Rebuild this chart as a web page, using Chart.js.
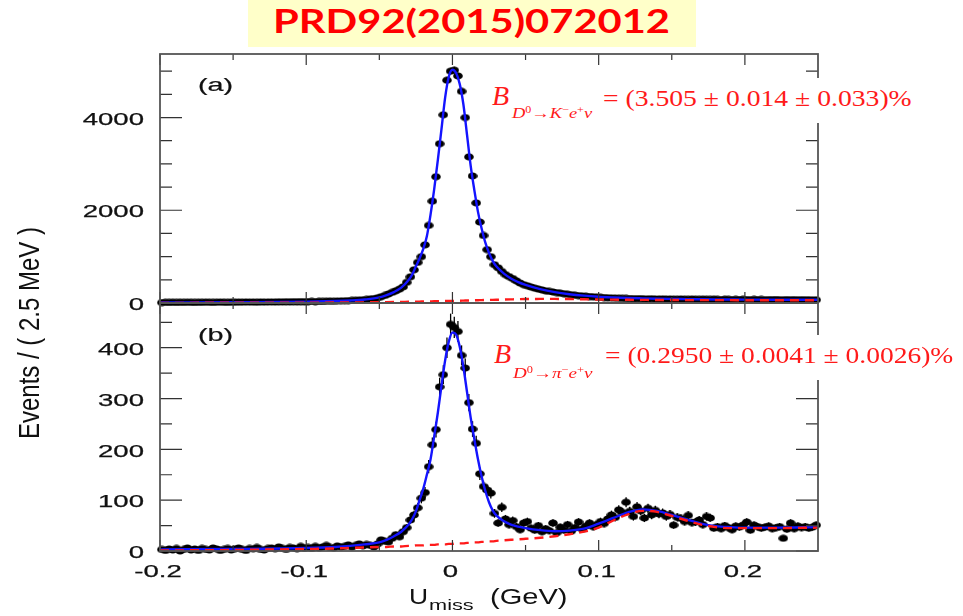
<!DOCTYPE html>
<html>
<head>
<meta charset="utf-8">
<script src="https://cdn.jsdelivr.net/npm/chart.js@4.4.1/dist/chart.umd.min.js"></script>
<style>
  html, body { margin: 0; padding: 0; background: #fff; }
  #wrap { position: relative; width: 963px; height: 616px; overflow: hidden; }
  #wrap canvas { position: absolute; left: 0; top: 0; }
  .title-box { position: absolute; left: 248px; top: 0; width: 448px; height: 47px; background: #ffffc9; }
  .title-text { position: absolute; left: 25px; top: 5px; font: bold 32px Lato, sans-serif; line-height: 1; color: #ff0000; white-space: nowrap; transform-origin: 0 0; display: inline-block; }
  .blank { position: absolute; background: #fff; }
  .fx { position: absolute; color: #ff1a1a; font-family: 'Liberation Serif', serif; line-height: 1; white-space: nowrap; transform-origin: 0 0; display: inline-block; }
  .fx i { font-style: italic; }
  .fx sup { font-size: 0.65em; vertical-align: 0.5em; line-height: 0; }
</style>
</head>
<body>
<div id="wrap">
  <canvas id="panelA" width="963" height="616"></canvas>
  <canvas id="panelB" width="963" height="616"></canvas>
  <div class="title-box"><span class="title-text" id="title">PRD92(2015)072012</span></div>

  <div class="blank" style="left:486px; top:78px; width:450px; height:45px;"></div>
  <span class="fx" style="left:492px; top:82px; font-size:28px;"><i>B</i></span>
  <span class="fx fit" data-w="80" style="left:512px; top:106px; font-size:15px;"><i>D</i><sup>0</sup>→<i>K</i><sup>−</sup><i>e</i><sup>+</sup><i>ν</i></span>
  <span class="fx fit" data-w="309" style="left:603px; top:87px; font-size:23px;">= (3.505 ± 0.014 ± 0.033)%</span>

  <div class="blank" style="left:486px; top:335px; width:477px; height:45px;"></div>
  <span class="fx" style="left:494px; top:340px; font-size:28px;"><i>B</i></span>
  <span class="fx fit" data-w="80" style="left:513px; top:366px; font-size:15px;"><i>D</i><sup>0</sup>→<i>π</i><sup>−</sup><i>e</i><sup>+</sup><i>ν</i></span>
  <span class="fx fit" data-w="348" style="left:605px; top:344px; font-size:23px;">= (0.2950 ± 0.0041 ± 0.0026)%</span>
</div>
<script>
// histogram binning (2.5 MeV bins from -0.2 to 0.25 GeV)
const binLow = -0.2;
const binWidth = 0.0025;

// (a) D0 -> K- e+ nu, events per bin
const eventsA = [
  10, 14, 12, 16, 11, 15, 13, 17, 14, 12,
  16, 14, 18, 15, 13, 17, 19, 16, 14, 18,
  17, 20, 18, 22, 19, 21, 17, 23, 20, 22,
  24, 21, 26, 23, 27, 25, 29, 26, 30, 28,
  31, 34, 30, 36, 33, 38, 40, 37, 43, 45,
  47, 51, 54, 59, 63, 70, 78, 86, 97, 112,
  135, 162, 195, 230, 262, 300, 348, 445, 565, 717,
  876, 1000, 1254, 1674, 2196, 2724, 3435, 4059, 4804, 5000,
  5022, 4898, 4565, 4000, 3152, 2739, 2159, 1746, 1457, 1152,
  1000, 826, 760, 680, 612, 570, 528, 478, 430, 395,
  372, 345, 320, 300, 282, 262, 250, 238, 225, 212,
  200, 190, 178, 168, 160, 152, 146, 140, 134, 128,
  124, 118, 113, 110, 106, 103, 100, 98, 96, 94,
  92, 95, 90, 88, 93, 87, 85, 89, 84, 86,
  83, 80, 85, 82, 78, 84, 80, 77, 82, 79,
  76, 81, 78, 74, 80, 77, 73, 78, 75, 79,
  74, 71, 77, 73, 76, 70, 74, 72, 75, 71,
  69, 74, 70, 73, 68, 72, 69, 71, 67, 70
];

// (b) D0 -> pi- e+ nu, events per bin
const eventsB = [
  3, 1, 4, 2, 5, 0, 3, 6, 2, 4,
  1, 5, 3, 2, 6, 4, 1, 3, 5, 2,
  4, 6, 3, 1, 5, 4, 7, 3, 2, 5,
  6, 4, 8, 5, 3, 7, 6, 4, 9, 5,
  7, 5, 9, 6, 8, 11, 7, 6, 10, 8,
  9, 12, 8, 11, 14, 10, 13, 11, 8, 14,
  22, 19, 18, 25, 32, 28, 38, 46, 61, 71,
  85, 104, 115, 166, 209, 239, 323, 347, 400, 446,
  440, 432, 385, 360, 292, 240, 212, 152, 127, 120,
  114, 74, 55, 86, 63, 52, 60, 48, 42, 55,
  58, 45, 41, 50, 38, 44, 40, 55, 36, 47,
  41, 52, 39, 46, 57, 43, 49, 55, 48, 52,
  58, 54, 63, 71, 66, 81, 76, 96, 78, 68,
  87, 79, 65, 84, 71, 80, 73, 75, 68, 72,
  51, 66, 64, 58, 70, 56, 57, 61, 52, 68,
  65, 45, 48, 44, 50, 46, 42, 49, 47, 51,
  57, 41, 51, 48, 45, 47, 49, 44, 46, 48,
  25, 43, 55, 44, 49, 46, 48, 45, 47, 51
];

// fit curves, sampled at these U_miss values
const fitX = [
  -0.2, -0.15, -0.1, -0.08, -0.07, -0.06, -0.05, -0.045, -0.04, -0.035,
  -0.03, -0.0275, -0.025, -0.0225, -0.02, -0.0175, -0.015, -0.0125, -0.01, -0.0075,
  -0.005, -0.0025, 0, 0.0025, 0.005, 0.0075, 0.01, 0.0125, 0.015, 0.0175,
  0.02, 0.0225, 0.025, 0.0275, 0.03, 0.035, 0.04, 0.045, 0.05, 0.06,
  0.07, 0.08, 0.09, 0.1, 0.11, 0.12, 0.13, 0.14, 0.15, 0.16,
  0.17, 0.18, 0.19, 0.2, 0.22, 0.25
];
const fitTotalA = [
  12, 18, 30, 43, 55, 76, 120, 170, 235, 330,
  495, 615, 790, 960, 1160, 1440, 1900, 2450, 3080, 3750,
  4430, 4880, 5030, 4960, 4720, 4280, 3620, 2950, 2430, 1960,
  1600, 1300, 1080, 910, 790, 640, 530, 450, 390, 300,
  235, 190, 158, 135, 120, 108, 100, 93, 88, 84,
  80, 77, 75, 73, 71, 69
];
const fitBkgA = [
  3, 5, 8, 10, 12, 14, 17, 19, 21, 23,
  26, 27, 29, 30, 32, 33, 35, 37, 38, 40,
  42, 44, 46, 48, 50, 52, 54, 56, 58, 60,
  62, 64, 66, 68, 70, 74, 78, 82, 85, 88,
  88, 85, 80, 76, 72, 69, 67, 65, 64, 63,
  62, 61, 61, 60, 60, 60
];
const fitTotalB = [
  3, 4, 6, 8, 10, 13, 17, 22, 29, 38,
  52, 63, 78, 100, 122, 150, 180, 225, 272, 325,
  375, 412, 430, 426, 402, 362, 312, 262, 220, 180,
  146, 118, 96, 80, 70, 59, 52, 48, 45, 41,
  39, 40, 44, 54, 65, 76, 82, 79, 71, 62,
  54, 49, 47, 46, 46, 47
];
const fitBkgB = [
  1, 2, 4, 5, 6, 7, 8, 8, 9, 9,
  10, 10, 11, 11, 11, 12, 12, 12, 13, 13,
  13, 14, 14, 15, 15, 15, 16, 16, 17, 17,
  18, 18, 19, 19, 20, 21, 22, 23, 24, 26,
  29, 33, 38, 46, 60, 72, 79, 77, 69, 60,
  52, 47, 45, 45, 45, 46
];

// axis ticks
const xTicks = [-0.2, -0.1, 0, 0.1, 0.2];
const xTickLabels = ['-0.2', '-0.1', '0', '0.1', '0.2'];
const xMinor = [-0.15, -0.05, 0.05, 0.15];
const yTicksA = [0, 2000, 4000];
const yMinorA = [500, 1000, 1500, 2500, 3000, 3500, 4500, 5000];
const yTicksB = [0, 100, 200, 300, 400];
const yMinorB = [50, 150, 250, 350, 450];

const AXIS_FONT = '"Liberation Sans", Arial, sans-serif';

function toPoints(values) {
  return values.map((v, i) => ({ x: binLow + binWidth * (i + 0.5), y: v }));
}
function toCurve(ys) {
  return ys.map((v, i) => ({ x: fitX[i], y: v }));
}

// slightly wide elliptical marker for data points
const dot = document.createElement('canvas');
dot.width = 10; dot.height = 8;
(function () {
  const c = dot.getContext('2d');
  c.fillStyle = '#000';
  c.beginPath();
  c.ellipse(5, 4, 4.8, 3.6, 0, 0, Math.PI * 2);
  c.fill();
})();

function wideText(ctx, text, x, y, size, sx, align, weight) {
  ctx.save();
  ctx.font = size + 'px ' + AXIS_FONT;
  ctx.textBaseline = 'middle';
  ctx.textAlign = 'left';
  const w = ctx.measureText(text).width * sx;
  const left = align === 'right' ? x - w : align === 'center' ? x - w / 2 : x;
  ctx.translate(left, y);
  ctx.scale(sx, 1);
  ctx.fillText(text, 0, 0);
  if (weight) {
    ctx.lineWidth = weight;
    ctx.strokeStyle = ctx.fillStyle;
    ctx.strokeText(text, 0, 0);
  }
  ctx.restore();
  return left + w;
}

// poisson error bars under the markers
const errorBars = {
  id: 'errorBars',
  afterDatasetDraw(chart, args) {
    if (args.index !== 0) return;
    const ctx = chart.ctx, y = chart.scales.y;
    ctx.save();
    ctx.strokeStyle = '#000';
    ctx.lineWidth = 1.3;
    args.meta.data.forEach((pt, i) => {
      const v = chart.data.datasets[0].data[i].y;
      const e = Math.sqrt(Math.max(v, 1));
      ctx.beginPath();
      ctx.moveTo(pt.x, y.getPixelForValue(v + e));
      ctx.lineTo(pt.x, y.getPixelForValue(Math.max(v - e, 0)));
      ctx.stroke();
    });
    ctx.restore();
  }
};

// frame, inward ticks, tick labels and panel tag
const frame = {
  id: 'frame',
  afterDraw(chart, args, opts) {
    const ctx = chart.ctx, a = chart.chartArea;
    const xs = chart.scales.x, ys = chart.scales.y;
    ctx.save();
    ctx.strokeStyle = '#333';
    ctx.lineWidth = 1.2;
    const tickX = (v, len) => {
      const px = xs.getPixelForValue(v);
      ctx.beginPath();
      ctx.moveTo(px, a.bottom); ctx.lineTo(px, a.bottom - len);
      ctx.moveTo(px, a.top); ctx.lineTo(px, a.top + len);
      ctx.stroke();
    };
    const tickY = (v, len) => {
      const py = ys.getPixelForValue(v);
      ctx.beginPath();
      ctx.moveTo(a.left, py); ctx.lineTo(a.left + len, py);
      ctx.moveTo(a.right, py); ctx.lineTo(a.right - len, py);
      ctx.stroke();
    };
    xTicks.forEach(v => tickX(v, 11));
    xMinor.forEach(v => tickX(v, 6));
    opts.yTicks.forEach(v => tickY(v, 22));
    opts.yMinor.forEach(v => tickY(v, 12));

    ctx.strokeStyle = '#555';
    ctx.lineWidth = 1.8;
    ctx.strokeRect(a.left, a.top, a.right - a.left, a.bottom - a.top);

    ctx.fillStyle = '#111';
    opts.yTicks.forEach(v => {
      wideText(ctx, String(v), a.left - 16, ys.getPixelForValue(v) + 2.5, 17, 1.62, 'right', 0.25);
    });
    wideText(ctx, opts.tag, 198, opts.tagY, 18, 1.6, 'left', 0.2);

    if (opts.xLabels) {
      xTicks.forEach((v, i) => {
        wideText(ctx, xTickLabels[i], xs.getPixelForValue(v) - 2, a.bottom + 21, 17, 1.62, 'center', 0.25);
      });
      // x title
      let x = wideText(ctx, 'U', 409, 598, 22, 1.2, 'left');
      x = wideText(ctx, 'miss', x + 1, 606, 14, 1.55, 'left');
      wideText(ctx, '(GeV)', 490, 598, 22, 1.32, 'left');
      // y title
      ctx.save();
      ctx.translate(31, 333);
      ctx.rotate(-Math.PI / 2);
      ctx.scale(1, 1.25);
      ctx.font = '24px ' + AXIS_FONT;
      ctx.textAlign = 'center';
      ctx.textBaseline = 'middle';
      ctx.fillText('Events / ( 2.5 MeV )', 0, 0);
      ctx.restore();
    }
    ctx.restore();
  }
};

function makePanel(id, events, total, bkg, yMax, padding, frameOpts) {
  return new Chart(document.getElementById(id), {
    type: 'scatter',
    data: {
      datasets: [
        { data: toPoints(events), pointStyle: dot, pointRadius: 4, order: 3, clip: false },
        { type: 'line', data: toCurve(total), borderColor: '#1414ff', borderWidth: 2.4,
          pointRadius: 0, cubicInterpolationMode: 'monotone', order: 2 },
        { type: 'line', data: toCurve(bkg), borderColor: '#ff1a1a', borderWidth: 2.4, borderDash: [9, 6],
          pointRadius: 0, cubicInterpolationMode: 'monotone', order: 1 }
      ]
    },
    options: {
      responsive: false,
      animation: false,
      devicePixelRatio: 1,
      layout: { padding: padding },
      plugins: { legend: { display: false }, tooltip: { enabled: false }, frame: frameOpts },
      scales: {
        x: { type: 'linear', min: -0.2, max: 0.25, display: false },
        y: { type: 'linear', min: 0, max: yMax, display: false }
      }
    },
    plugins: [errorBars, frame]
  });
}

makePanel('panelA', eventsA, fitTotalA, fitBkgA, 5370,
  { left: 160, top: 54, right: 145, bottom: 313 },
  { yTicks: yTicksA, yMinor: yMinorA, tag: '(a)', tagY: 86, xLabels: false });

makePanel('panelB', eventsB, fitTotalB, fitBkgB, 488,
  { left: 160, top: 303, right: 145, bottom: 65 },
  { yTicks: yTicksB, yMinor: yMinorB, tag: '(b)', tagY: 336, xLabels: true });

// stretch the red texts to their boxes
function stretchTo(el, w) {
  el.style.transform = 'scaleX(' + (w / el.offsetWidth) + ')';
}
stretchTo(document.getElementById('title'), 397);
document.querySelectorAll('.fit').forEach(el => stretchTo(el, +el.dataset.w));
</script>
</body>
</html>
